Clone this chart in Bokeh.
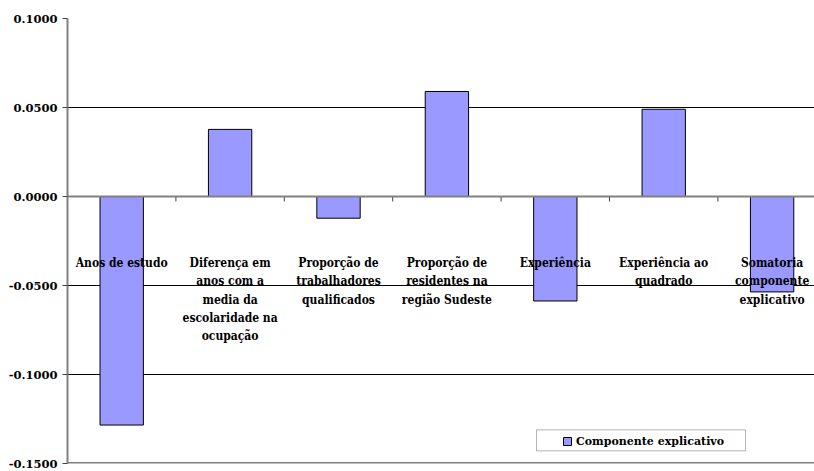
from bokeh.plotting import figure
from bokeh.models import (Range1d, FixedTicker, NumeralTickFormatter, Span,
                          BoxAnnotation, Legend, LegendItem, ColumnDataSource)
from bokeh.core.properties import value
from bokeh.embed import file_html
from bokeh.resources import INLINE

# Decomposition: explained component per variable
categories = [
    "Anos de estudo",
    "Diferença em\nanos com a\nmedia da\nescolaridade na\nocupação",
    "Proporção de\ntrabalhadores\nqualificados",
    "Proporção de\nresidentes na\nregião Sudeste",
    "Experiência",
    "Experiência ao\nquadrado",
    "Somatoria\ncomponente\nexplicativo",
]
componente = [-0.1284, 0.0377, -0.0122, 0.0590, -0.0587, 0.0490, -0.0536]
y_ticks = [-0.15, -0.10, -0.05, 0.0, 0.05, 0.10]
series_name = "Componente explicativo"

LABEL_FONT = "'DejaVu Serif Condensed', 'DejaVu Serif'"
AXIS_FONT = "DejaVu Serif"
BAR_FILL = "#9999FF"

n = len(categories)
xs = [i + 0.5 for i in range(n)]
src = ColumnDataSource(dict(x=xs, top=componente, label=categories))

p = figure(width=814, height=471, output_backend="svg", toolbar_location=None,
           x_range=Range1d(0, 6.891), y_range=Range1d(-0.15, 0.10),
           x_axis_location=None,
           min_border_left=67, min_border_right=0,
           min_border_top=18, min_border_bottom=8)
p.outline_line_color = None
p.background_fill_color = "white"
p.border_fill_color = "white"

# y axis
yax = p.yaxis[0]
yax.ticker = FixedTicker(ticks=y_ticks)
yax.formatter = NumeralTickFormatter(format="0.0000")
yax.axis_line_color = "#808080"
yax.axis_line_width = 2
yax.major_tick_line_color = "#404040"
yax.major_tick_out = 5
yax.major_tick_in = 0
yax.minor_tick_line_color = None
yax.major_label_text_font = AXIS_FONT
yax.major_label_text_font_style = "bold"
yax.major_label_text_font_size = "11.5px"
yax.major_label_text_color = "black"
yax.major_label_standoff = 5

p.xgrid.visible = False
p.ygrid.ticker = FixedTicker(ticks=y_ticks)
p.ygrid.grid_line_color = "black"
p.ygrid.grid_line_width = 1

# bars
bars = p.vbar(x="x", top="top", bottom=0, width=0.4, source=src,
              fill_color=BAR_FILL, line_color="black", line_width=1)

# zero line with category separators, and the bottom border
p.add_layout(Span(location=0, dimension="width", line_color="#808080", line_width=2))
p.add_layout(Span(location=-0.15, dimension="width", line_color="#808080", line_width=3))
sep = list(range(1, n))
p.segment(x0=sep, x1=sep, y0=[0] * len(sep), y1=[-0.0028] * len(sep),
          line_color="#404040", line_width=1)

# category labels
p.text(x="x", y=-0.0335, text="label", source=src,
       text_font=value(LABEL_FONT), text_font_style="bold", text_font_size="12px",
       text_align="center", text_baseline="top", text_line_height=1.3,
       text_color="black")

# legend
p.add_layout(BoxAnnotation(left=4.327, right=6.255, top=-0.1311, bottom=-0.1429,
                           fill_alpha=0, line_color="black", line_width=1))
legend = Legend(items=[LegendItem(label=series_name, renderers=[bars])],
                location=(495, 15), padding=0, margin=0, spacing=0,
                glyph_width=10, glyph_height=10, label_height=14,
                label_standoff=4, border_line_alpha=0,
                background_fill_alpha=0,
                label_text_font=AXIS_FONT, label_text_font_style="bold",
                label_text_font_size="11px", label_text_color="black")
p.add_layout(legend)

open("out.html", "w").write(file_html(p, INLINE))
